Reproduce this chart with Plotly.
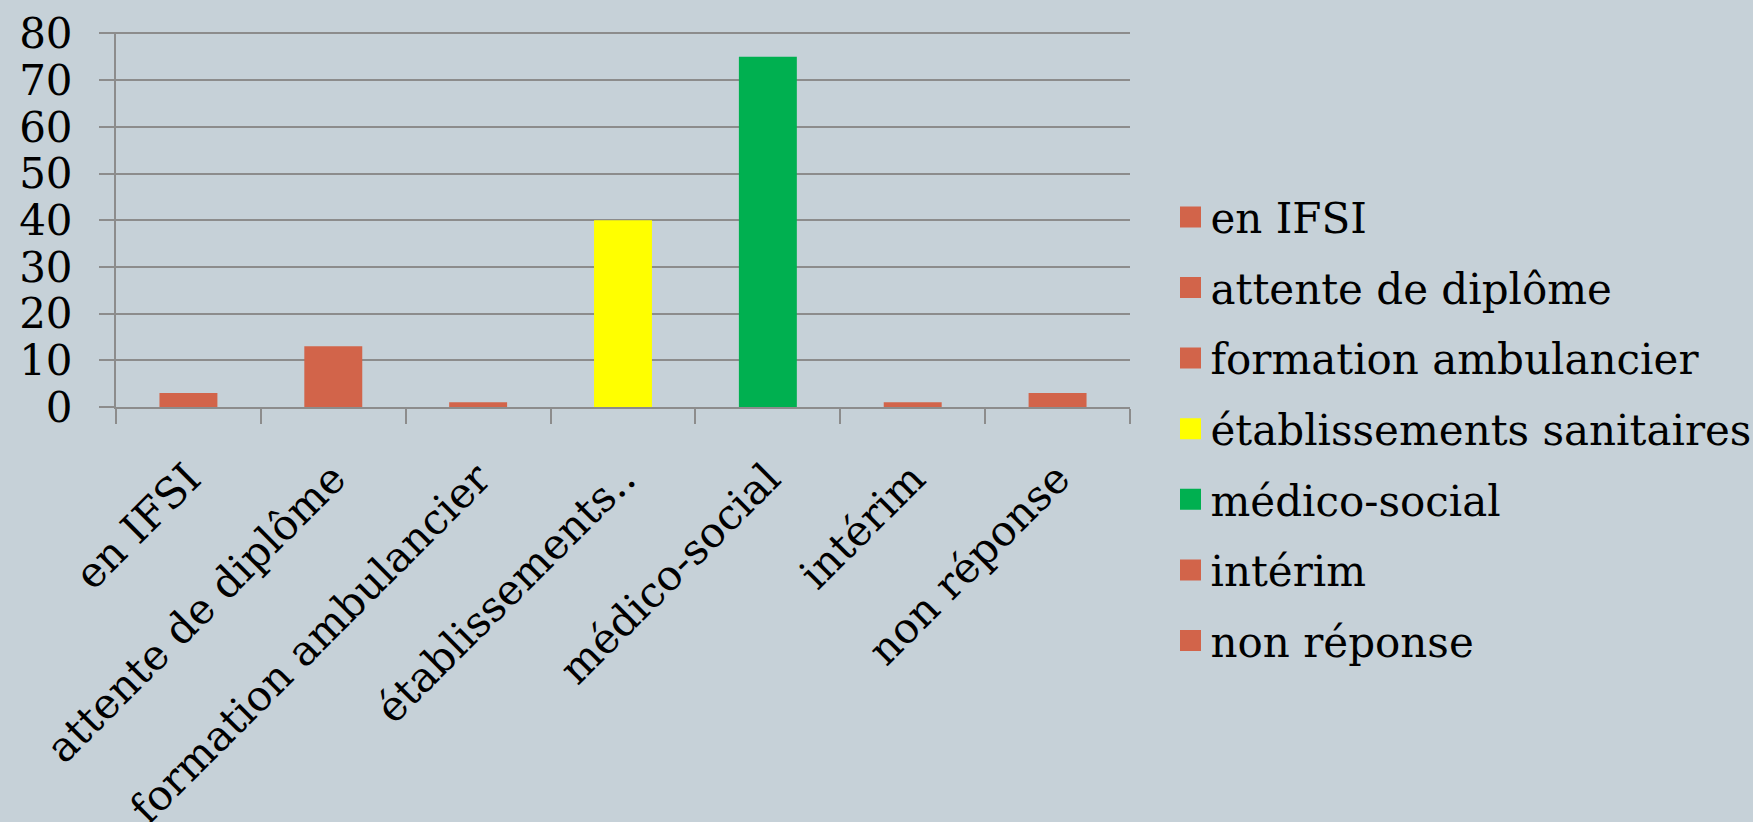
import plotly.graph_objects as go

categories = ["en IFSI", "attente de diplôme", "formation ambulancier",
              "établissements sanitaires", "médico-social", "intérim", "non réponse"]
tick_labels = ["en IFSI", "attente de diplôme", "formation ambulancier",
               "établissements..", "médico-social", "intérim", "non réponse"]
values = [3, 13, 1, 40, 75, 1, 3]
colors = ["#D2644A", "#D2644A", "#D2644A", "#FFFF00", "#00B050", "#D2644A", "#D2644A"]
y_ticks = [0, 10, 20, 30, 40, 50, 60, 70, 80]

FONT = "DejaVu Serif"
FS = 42
BG = "#C6D1D8"
GRID = "#8C8C8C"

fig = go.Figure()
fig.add_trace(go.Bar(x=categories, y=values, marker=dict(color=colors, line=dict(width=0)),
                     showlegend=False))
for i, (c, col) in enumerate(zip(categories, colors)):
    fig.add_trace(go.Scatter(x=[None], y=[None], mode="markers", name=c,
                             legendgroup=f"g{i}",
                             marker=dict(symbol="square", size=16, color=col,
                                         line=dict(color=col, width=5))))

fig.update_layout(
    width=1753, height=822,
    paper_bgcolor=BG, plot_bgcolor=BG,
    margin=dict(l=116, r=623, t=32, b=415, autoexpand=False),
    barmode="overlay", bargap=0.6,
    font=dict(family=FONT, size=FS, color="black"),
    legend=dict(xref="container", x=0.6677, xanchor="left",
                yref="container", y=0.478, yanchor="middle",
                maxheight=760,
                bgcolor="rgba(0,0,0,0)", tracegroupgap=13,
                font=dict(family=FONT, size=FS, color="black")),
    showlegend=True,
)
fig.update_xaxes(
    type="category", range=[-0.5, 6.5],
    tickvals=categories, ticktext=tick_labels,
    tickangle=-45, tickson="boundaries",
    ticks="outside", ticklen=15, tickwidth=2, tickcolor=GRID,
    showline=True, linecolor=GRID, linewidth=2,
    showgrid=False, automargin=False, ticklabelstandoff=28,
    tickfont=dict(family=FONT, size=FS, color="black"),
)
fig.update_yaxes(
    range=[0, 80.3], tickvals=y_ticks,
    ticks="outside", ticklen=15, tickwidth=2, tickcolor=GRID,
    showline=True, linecolor=GRID, linewidth=2,
    showgrid=True, gridcolor=GRID, gridwidth=2,
    zeroline=False, automargin=False, ticklabelstandoff=18,
    tickfont=dict(family=FONT, size=FS, color="black"),
)

fig.write_html("out.html", config={"displayModeBar": False},
               post_script="document.body.style.margin='0';document.body.style.overflow='hidden';")
